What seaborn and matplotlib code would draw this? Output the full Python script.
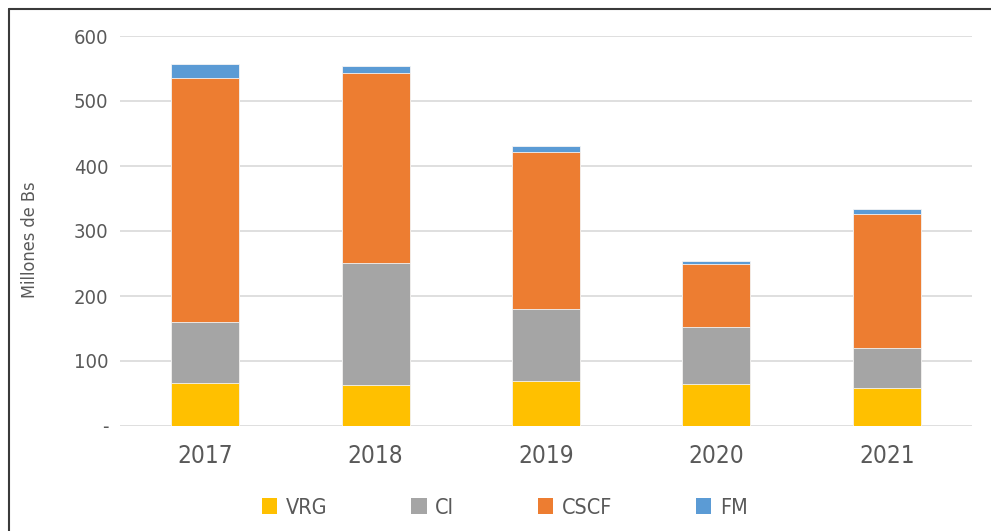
import numpy as np
import pandas as pd
import matplotlib
matplotlib.use("Agg")
import matplotlib.pyplot as plt
import seaborn as sns
from matplotlib.lines import Line2D
from matplotlib.patches import Patch

years = ["2017", "2018", "2019", "2020", "2021"]
series = ["VRG", "CI", "CSCF", "FM"]
vrg = [65.6, 63.0, 68.7, 64.6, 58.0]
ci = [95.0, 188.0, 110.8, 87.2, 61.5]
cscf = [374.5, 291.6, 241.5, 96.9, 207.1]
fm = [22.0, 11.4, 10.0, 5.1, 6.7]
colors = ["#FFC000", "#A5A5A5", "#ED7D31", "#5B9BD5"]
ytick_vals = [0, 100, 200, 300, 400, 500, 600]
ytick_labels = ["-", "100", "200", "300", "400", "500", "600"]

sns.set_theme(style="white")
plt.rcParams["font.family"] = ["DejaVu Sans"]
plt.rcParams["font.stretch"] = "condensed"

df = pd.DataFrame({"year": years, "VRG": vrg, "CI": ci, "CSCF": cscf, "FM": fm})
cum = df[series].cumsum(axis=1)

fig = plt.figure(figsize=(9.91, 5.31), dpi=100)
ax = fig.add_axes([120 / 991, 105 / 531, 852 / 991, 390 / 531])

# stacked bars: draw cumulative totals from the top layer down
for name, col in reversed(list(zip(series, colors))):
    sns.barplot(x=df["year"], y=cum[name], color=col, width=0.4, saturation=1,
                edgecolor="#f4f4f4", linewidth=0.6, ax=ax, zorder=3)

ax.set_ylim(0, 600)
ax.set_xlim(-0.5, 4.5)
ax.set_yticks(ytick_vals)
ax.set_yticklabels(ytick_labels)
ax.yaxis.grid(True, color="#d9d9d9", linewidth=1.2, zorder=0)
ax.set_axisbelow(True)
for s in ax.spines.values():
    s.set_visible(False)
ax.tick_params(axis="y", length=0, pad=8.5, labelsize=14.5, labelcolor="#595959")
ax.tick_params(axis="x", length=0, pad=13, labelsize=17.5, labelcolor="#595959")
ax.set_xlabel("")
ax.set_ylabel("Millones de Bs", fontsize=13, color="#595959")
ax.yaxis.set_label_coords(-0.095, 0.477)

handles = [Patch(facecolor=c, edgecolor="none") for c in colors]
fig.legend(handles, series, loc="center", bbox_to_anchor=(505 / 991, 1 - 507.5 / 531),
           ncol=4, frameon=False, fontsize=15.5, labelcolor="#595959",
           handlelength=0.7, handleheight=0.7, handletextpad=0.4, columnspacing=3.9)

# outer frame (left and top edges visible in the crop)
fig.add_artist(Line2D([9 / 991, 9 / 991], [0, 1 - 9 / 531], transform=fig.transFigure,
                      color="#3a3a3a", linewidth=1.5))
fig.add_artist(Line2D([9 / 991, 1], [1 - 9 / 531, 1 - 9 / 531], transform=fig.transFigure,
                      color="#3a3a3a", linewidth=1.5))

fig.savefig("out.png", dpi=100)
